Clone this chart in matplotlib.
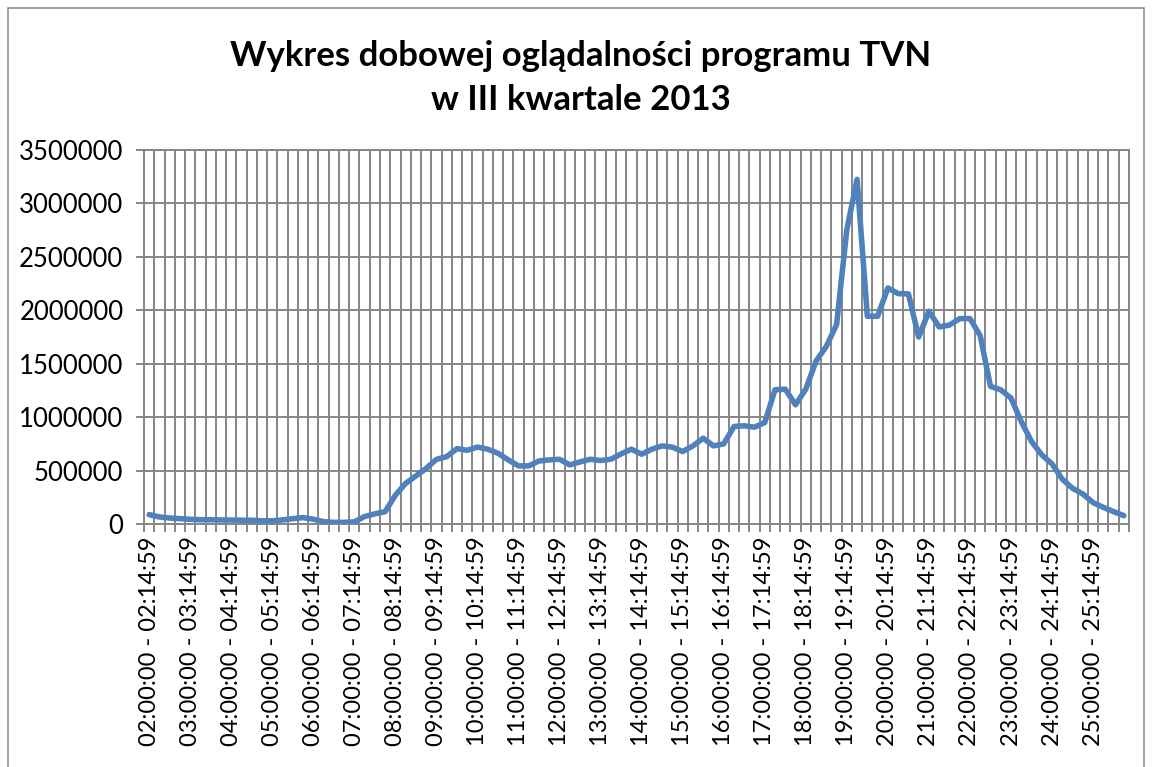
import matplotlib.pyplot as plt
import numpy as np

# 15-minute slots from 02:00 to 25:45 (TV day)
slots = ['%02d:%02d:00 - %02d:%02d:59' % (h, m, h, m + 14)
         for h in range(2, 26) for m in (0, 15, 30, 45)]

viewers = [
    88000, 66000, 56000, 50000, 44000, 40000, 40000, 38000,
    37000, 35000, 35000, 30000, 30000, 38000, 50000, 60000,
    45000, 22000, 15000, 15000, 20000, 70000, 95000, 115000,
    270000, 380000, 450000, 520000, 605000, 630000, 705000, 690000,
    720000, 700000, 662000, 600000, 544000, 544000, 590000, 600000,
    606000, 553000, 581000, 606000, 594000, 606000, 656000, 700000,
    653000, 700000, 731000, 719000, 678000, 731000, 803000, 731000,
    750000, 912000, 919000, 906000, 950000, 1256000, 1262000, 1116000,
    1262000, 1525000, 1662000, 1866000, 2756000, 3225000, 1944000, 1944000,
    2209000, 2156000, 2153000, 1750000, 1991000, 1844000, 1862000, 1922000,
    1922000, 1762000, 1288000, 1256000, 1178000, 959000, 772000, 647000,
    562000, 419000, 334000, 281000, 200000, 156000, 116000, 78000,
]

title = 'Wykres dobowej oglądalności programu TVN\nw III kwartale 2013'
yticks = [0, 500000, 1000000, 1500000, 2000000, 2500000, 3000000, 3500000]

grid_c = '#868686'
plt.rcParams['font.family'] = ['Lato', 'DejaVu Sans']

fig = plt.figure(figsize=(11.52, 7.67), dpi=100)
ax = fig.add_axes([144 / 1152, 1 - 524 / 767, 985 / 1152, 374 / 767])

x = np.arange(len(viewers))
ax.plot(x, viewers, color='#4F81BD', lw=4, solid_joinstyle='round',
        solid_capstyle='round', zorder=3)

ax.set_xlim(-0.5, len(viewers) - 0.5)
ax.set_ylim(0, 3500000)
ax.set_yticks(yticks)
ax.set_yticklabels([str(v) for v in yticks])

# labels every hour, boundary ticks/gridlines every slot
ax.set_xticks(x[::4])
ax.set_xticklabels(slots[::4], rotation=90, va='top', ha='center')
ax.set_xticks(np.arange(len(viewers) + 1) - 0.5, minor=True)
ax.tick_params(axis='x', which='major', length=0, pad=9, labelsize=17)
ax.tick_params(axis='x', which='minor', length=5.8, width=1.4, color=grid_c,
               direction='out')
ax.tick_params(axis='y', length=5.8, width=1.4, color=grid_c, pad=9,
               labelsize=18.5)

ax.grid(True, which='minor', axis='x', color=grid_c, lw=1.4)
ax.grid(True, which='major', axis='y', color=grid_c, lw=1.4)
ax.set_axisbelow(True)
for s in ax.spines.values():
    s.set_color(grid_c)
    s.set_linewidth(1.4)

fig.text(0.504, 1 - 78 / 767, title, ha='center', va='center',
         fontsize=25, fontweight='bold', linespacing=1.5)

# chart area border
fig.add_artist(plt.Rectangle((8 / 1152, -0.05), 1136 / 1152, 1.05 - 8 / 767,
                             transform=fig.transFigure, fill=False,
                             ec=grid_c, lw=1.1))

fig.savefig('out.png', dpi=100)
